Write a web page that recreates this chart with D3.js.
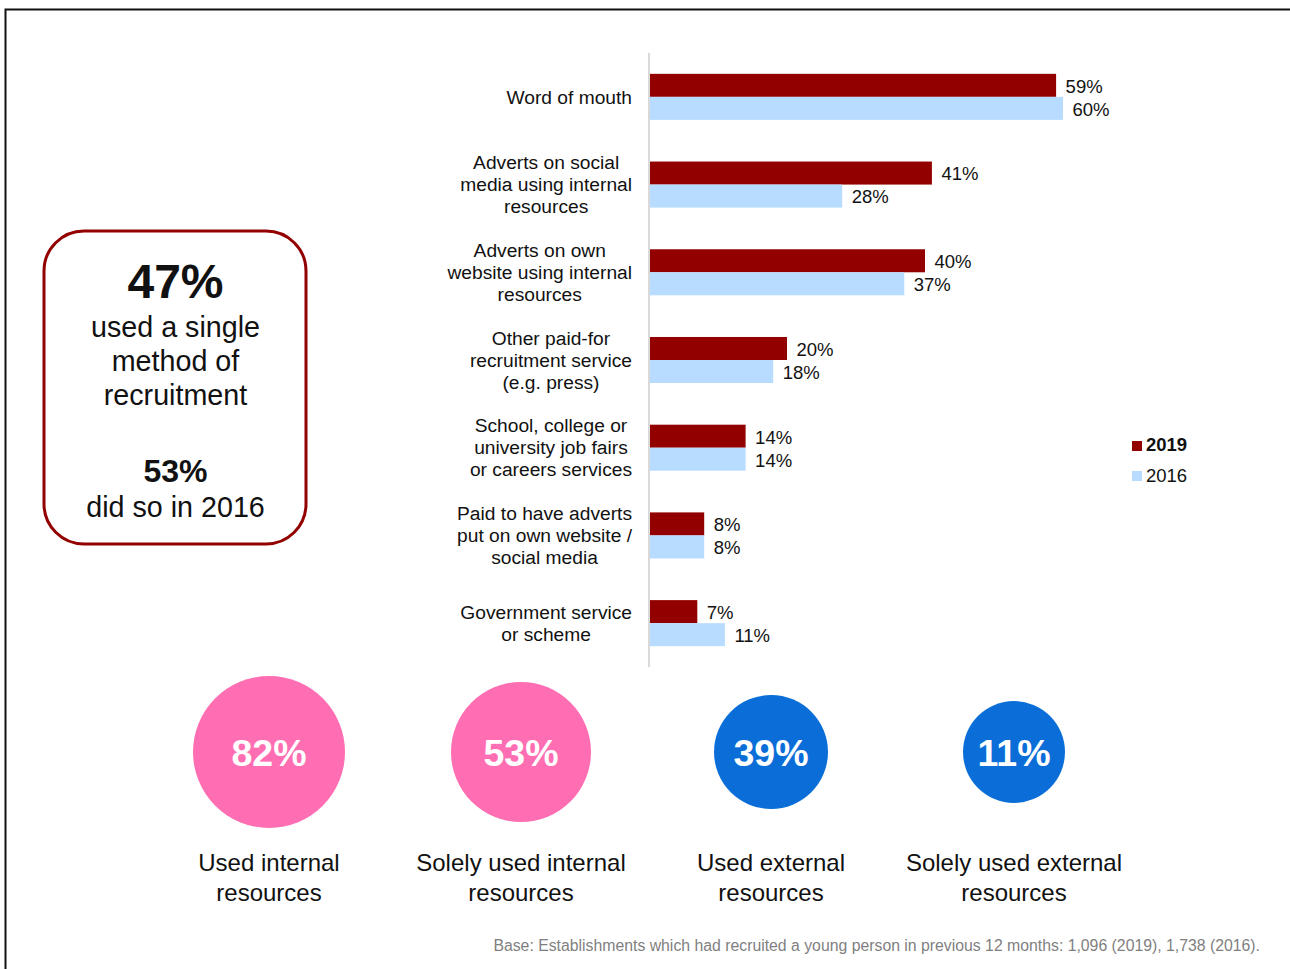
<!DOCTYPE html>
<html>
<head>
<meta charset="utf-8">
<script src="https://cdn.jsdelivr.net/npm/d3@7"></script>
<style>
  html, body { margin: 0; padding: 0; background: #fff; }
  svg { display: block; font-family: Arial, "Liberation Sans", sans-serif; }
</style>
</head>
<body>
<svg id="chart" width="1290" height="969"></svg>
<script>
// ---- data ----
const categories = [
  "Word of mouth",
  "Adverts on social\nmedia using internal\nresources",
  "Adverts on own\nwebsite using internal\nresources",
  "Other paid-for\nrecruitment service\n(e.g. press)",
  "School, college or\nuniversity job fairs\nor careers services",
  "Paid to have adverts\nput on own website /\nsocial media",
  "Government service\nor scheme"
];
const seriesNames = ["2019", "2016"];
const values2019 = [59, 41, 40, 20, 14, 8, 7];
const values2016 = [60, 28, 37, 18, 14, 8, 11];

const bubbleValues = [82, 53, 39, 11];
const bubbleLabels = [
  "Used internal\nresources",
  "Solely used internal\nresources",
  "Used external\nresources",
  "Solely used external\nresources"
];
const boxHeadline = "47%";
const boxLines = ["used a single", "method of", "recruitment"];
const boxSecond = "53%";
const boxSecondLine = "did so in 2016";
const footnote = "Base: Establishments which had recruited a young person in previous 12 months: 1,096 (2019), 1,738 (2016).";

// ---- layout / style ----
const colors = { "2019": "#920000", "2016": "#B8DCFF" };
const pink = "#FF6EB2", blue = "#0A6DD8";
const bubbleColors = [pink, pink, blue, blue];
const bubbleCx = [269, 521, 771, 1014];
const bubbleR = [76, 70, 57, 51];

const svg = d3.select("#chart");

// frame
svg.append("path")
  .attr("d", "M5.5,1000 L5.5,9.5 L1300,9.5")
  .attr("fill", "none").attr("stroke", "#111").attr("stroke-width", 2);

// scales
const axisX = 649;
const x = d3.scaleLinear().domain([0, 60]).range([axisX, axisX + 414]);
const y = d3.scaleBand().domain(categories).range([53, 667])
  .paddingInner(0.475).paddingOuter(0.2375);
const ySub = d3.scaleBand().domain(seriesNames).range([0, y.bandwidth()]);

const rows = categories.map((c, i) => ({ cat: c, v: { "2019": values2019[i], "2016": values2016[i] } }));

// bars
const g = svg.append("g");
rows.forEach(r => {
  seriesNames.forEach(s => {
    g.append("rect")
      .attr("x", x(0))
      .attr("y", y(r.cat) + ySub(s))
      .attr("width", x(r.v[s]) - x(0))
      .attr("height", ySub.bandwidth())
      .attr("fill", colors[s]);
    g.append("text")
      .attr("x", x(r.v[s]) + 9.5)
      .attr("y", y(r.cat) + ySub(s) + ySub.bandwidth() / 2)
      .attr("dy", "0.4em")
      .attr("font-size", "18.5px")
      .attr("fill", "#111")
      .text(r.v[s] + "%");
  });
});

// axis line
svg.append("line")
  .attr("x1", axisX).attr("x2", axisX)
  .attr("y1", 53).attr("y2", 667)
  .attr("stroke", "#D9D9D9").attr("stroke-width", 2);

// category labels (centered block, right edge at 632)
const labelRight = 632, lineH = 22, catFont = 19.2;
categories.forEach(c => {
  const lines = c.split("\n");
  const t = svg.append("text").attr("font-size", catFont + "px").attr("fill", "#111")
    .attr("text-anchor", "middle");
  const cy = y(c) + y.bandwidth() / 2;
  const spans = lines.map((ln, i) => t.append("tspan")
    .attr("y", cy + (i - (lines.length - 1) / 2) * lineH)
    .attr("dy", "0.35em")
    .text(ln));
  let maxW = 0;
  spans.forEach(s => { maxW = Math.max(maxW, s.node().getComputedTextLength()); });
  spans.forEach(s => s.attr("x", labelRight - maxW / 2));
});

// legend
const legY = [441, 471];
seriesNames.forEach((s, i) => {
  svg.append("rect").attr("x", 1132).attr("y", legY[i]).attr("width", 10).attr("height", 10)
    .attr("fill", colors[s]);
  svg.append("text").attr("x", 1146).attr("y", legY[i] + 10 + (i === 1 ? 1 : 0))
    .attr("font-size", "18.5px").attr("font-weight", i === 0 ? "bold" : "normal")
    .attr("fill", "#111").text(s);
});

// left box
svg.append("rect")
  .attr("x", 44).attr("y", 231).attr("width", 262).attr("height", 313)
  .attr("rx", 40).attr("ry", 40)
  .attr("fill", "#fff").attr("stroke", "#920000").attr("stroke-width", 3);
const boxCx = 175.5;
svg.append("text").attr("x", boxCx).attr("y", 298).attr("text-anchor", "middle")
  .attr("font-size", "48px").attr("font-weight", "bold").attr("fill", "#111").text(boxHeadline);
boxLines.forEach((ln, i) => {
  svg.append("text").attr("x", boxCx).attr("y", 337 + i * 34).attr("text-anchor", "middle")
    .attr("font-size", "28.7px").attr("fill", "#111").text(ln);
});
svg.append("text").attr("x", boxCx).attr("y", 482).attr("text-anchor", "middle")
  .attr("font-size", "32px").attr("font-weight", "bold").attr("fill", "#111").text(boxSecond);
svg.append("text").attr("x", boxCx).attr("y", 517).attr("text-anchor", "middle")
  .attr("font-size", "28.7px").attr("fill", "#111").text(boxSecondLine);

// bubbles
const bubbleCy = 752;
bubbleValues.forEach((v, i) => {
  svg.append("circle").attr("cx", bubbleCx[i]).attr("cy", bubbleCy).attr("r", bubbleR[i])
    .attr("fill", bubbleColors[i]);
  svg.append("text").attr("x", bubbleCx[i]).attr("y", bubbleCy + 13.5)
    .attr("text-anchor", "middle").attr("font-size", "37.5px").attr("font-weight", "bold")
    .attr("fill", "#fff").text(v + "%");
  const t = svg.append("text").attr("text-anchor", "middle").attr("font-size", "24px").attr("fill", "#111");
  bubbleLabels[i].split("\n").forEach((ln, j) => {
    t.append("tspan").attr("x", bubbleCx[i]).attr("y", 871 + j * 30).text(ln);
  });
});

// footnote
svg.append("text").attr("x", 1260).attr("y", 951).attr("text-anchor", "end")
  .attr("font-size", "15.8px").attr("fill", "#7F7F7F").text(footnote);
</script>
</body>
</html>
